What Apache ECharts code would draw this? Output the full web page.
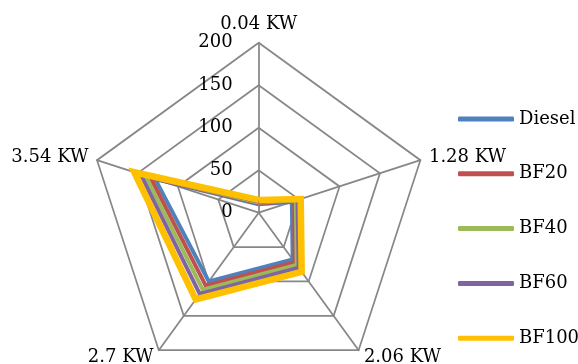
<!DOCTYPE html>
<html>
<head>
<meta charset="utf-8">
<script src="https://cdn.jsdelivr.net/npm/echarts@6/dist/echarts.min.js"></script>
<style>
  html, body { margin: 0; padding: 0; background: #ffffff; }
  #chart { width: 578px; height: 364px; }
</style>
</head>
<body>
<div id="chart"></div>
<script>
// Engine power steps (radar spokes, clockwise from the top)
const categories = ['0.04 KW', '1.28 KW', '2.06 KW', '2.7 KW', '3.54 KW'];
const axisMax = 200;

// One array per fuel blend, same order as categories
const diesel = [10, 41, 68, 100, 128];
const bf20   = [11, 44, 72, 106, 134];
const bf40   = [12, 46, 76, 112, 140];
const bf60   = [13, 48, 80, 118, 146];
const bf100  = [15, 52, 86, 126, 154];

const seriesNames = ['Diesel', 'BF20', 'BF40', 'BF60', 'BF100'];
const seriesValues = [diesel, bf20, bf40, bf60, bf100];
const seriesColors = ['#4F81BD', '#C0504D', '#9BBB59', '#8064A2', '#FFC000'];
const seriesWidths = [4, 4, 4, 4, 6.5];

// ECharts lays radar spokes counter-clockwise, so walk the list backwards after the first
const order = [0, 4, 3, 2, 1];

const font = 'DejaVu Serif';
const gridColor = '#878787';

const indicator = order.map(function (i, k) {
  const ind = { name: categories[i], min: 0, max: axisMax };
  if (k === 0) {
    ind.axisLabel = {
      show: true,
      margin: 26,
      color: '#000',
      fontFamily: font,
      fontSize: 18
    };
  }
  return ind;
});

const chart = echarts.init(document.getElementById('chart'), null, { renderer: 'canvas' });

chart.setOption({
  animation: false,
  backgroundColor: '#ffffff',
  legend: {
    orient: 'vertical',
    left: 458,
    top: 109,
    padding: 0,
    itemWidth: 56,
    itemHeight: 5,
    itemGap: 34.8,
    icon: 'roundRect',
    textStyle: { fontFamily: font, fontSize: 18, color: '#000', lineHeight: 20 },
    data: seriesNames
  },
  radar: {
    center: [258.7, 212.7],
    radius: 170,
    startAngle: 90,
    shape: 'polygon',
    splitNumber: 4,
    nameGap: 9,
    axisName: { color: '#000', fontFamily: font, fontSize: 18 },
    axisLine: { lineStyle: { color: gridColor, width: 1.75 } },
    splitLine: { lineStyle: { color: gridColor, width: 1.75 } },
    splitArea: { show: false },
    axisTick: { show: false },
    axisLabel: { show: false },
    indicator: indicator
  },
  series: [{
    type: 'radar',
    symbol: 'none',
    data: seriesNames.map(function (name, s) {
      return {
        name: name,
        value: order.map(function (i) { return seriesValues[s][i]; }),
        lineStyle: { color: seriesColors[s], width: seriesWidths[s], join: 'miter' },
        itemStyle: { color: seriesColors[s] }
      };
    })
  }]
});
</script>
</body>
</html>
